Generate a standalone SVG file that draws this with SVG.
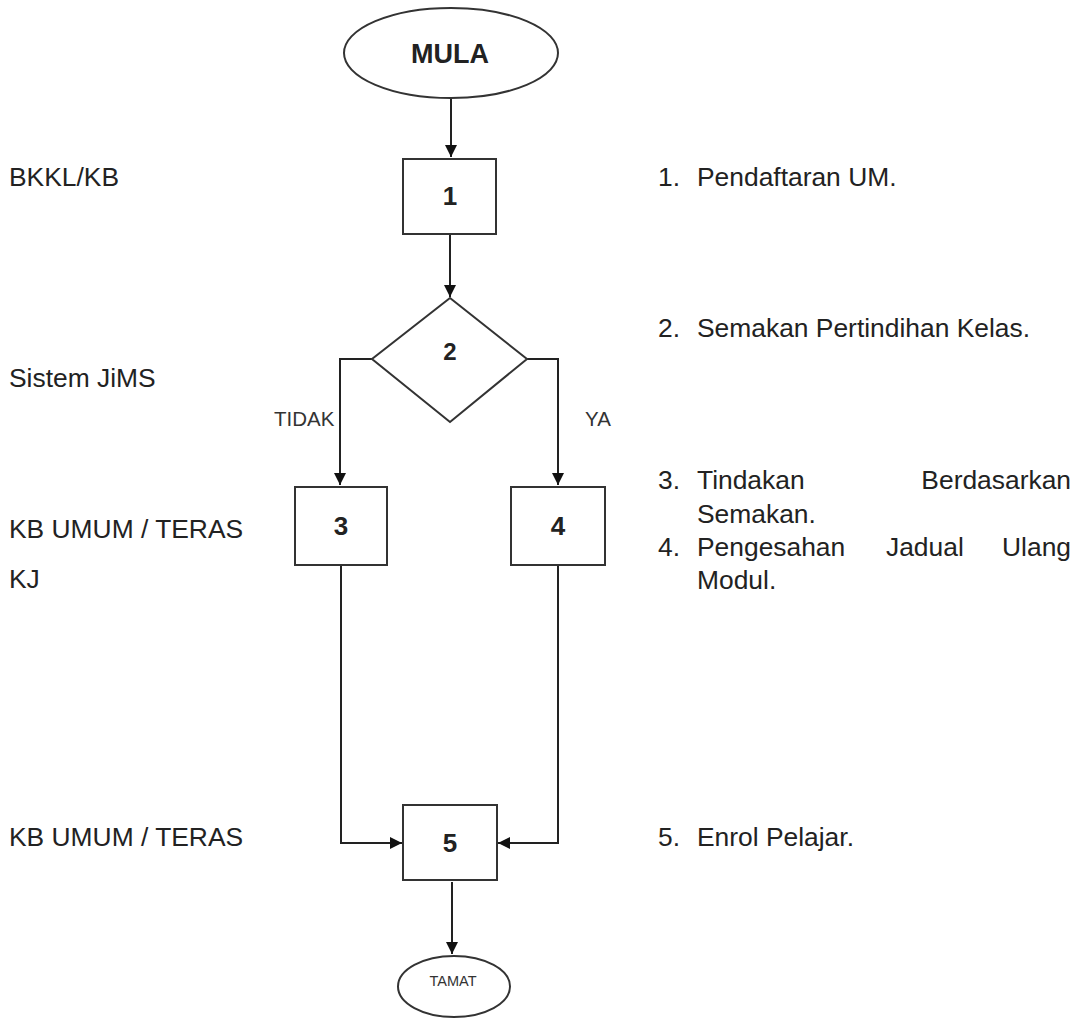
<svg xmlns="http://www.w3.org/2000/svg" width="1083" height="1019" viewBox="0 0 1083 1019">
<style>
.shape{fill:#fff;stroke:#333;stroke-width:2}
.conn{fill:none;stroke:#222;stroke-width:2}
.lbl{font-family:"Liberation Sans",Arial,sans-serif;font-size:26.4px;fill:#222}
.num{font-family:"Liberation Sans",Arial,sans-serif;font-size:26px;font-weight:bold;fill:#222;text-anchor:middle}
.br{font-family:"Liberation Sans",Arial,sans-serif;font-size:20.5px;fill:#333}
</style>
<defs>
<marker id="ah" viewBox="0 0 10 10" refX="10" refY="5" markerWidth="6" markerHeight="6" markerUnits="strokeWidth" orient="auto">
<path d="M0,0 L10,5 L0,10 z" fill="#111"/>
</marker>
</defs>
<rect width="1083" height="1019" fill="#fff"/>
<g id="connectors">
<line class="conn" x1="451" y1="98" x2="451" y2="157" marker-end="url(#ah)"/>
<line class="conn" x1="450" y1="235" x2="450" y2="297" marker-end="url(#ah)"/>
<polyline class="conn" points="372,359 340,359 340,485" marker-end="url(#ah)"/>
<polyline class="conn" points="527,359 558,359 558,485" marker-end="url(#ah)"/>
<polyline class="conn" points="341,566 341,843 402,843" marker-end="url(#ah)"/>
<polyline class="conn" points="558,566 558,843 498,843" marker-end="url(#ah)"/>
<line class="conn" x1="452" y1="882" x2="452" y2="954" marker-end="url(#ah)"/>
</g>
<g id="mula">
<ellipse class="shape" cx="451" cy="53" rx="107" ry="45"/>
<text class="num" x="450" y="63" style="font-size:27px">MULA</text>
</g>
<g id="n1">
<rect class="shape" x="403" y="159" width="93" height="75"/>
<text class="num" x="450" y="205">1</text>
</g>
<g id="n2">
<polygon class="shape" points="450,298 527,359 450,422 372,359"/>
<text class="num" x="450" y="360" style="font-size:24px">2</text>
</g>
<g id="n3">
<rect class="shape" x="295" y="487" width="92" height="78"/>
<text class="num" x="341" y="535">3</text>
</g>
<g id="n4">
<rect class="shape" x="511" y="487" width="94" height="78"/>
<text class="num" x="558" y="535">4</text>
</g>
<g id="n5">
<rect class="shape" x="403" y="805" width="94" height="75"/>
<text class="num" x="450" y="852">5</text>
</g>
<g id="tamat">
<ellipse class="shape" cx="454" cy="986.5" rx="56" ry="30.5"/>
<text x="453" y="986" text-anchor="middle" style="font-family:'Liberation Sans',Arial,sans-serif;font-size:14.5px;fill:#333">TAMAT</text>
</g>
<g id="branch-labels">
<text class="br" x="274" y="426">TIDAK</text>
<text class="br" x="585" y="426">YA</text>
</g>
<g id="left-labels">
<text class="lbl" x="9" y="186">BKKL/KB</text>
<text class="lbl" x="9" y="387">Sistem JiMS</text>
<text class="lbl" x="9" y="538">KB UMUM / TERAS</text>
<text class="lbl" x="9" y="588">KJ</text>
<text class="lbl" x="9" y="846">KB UMUM / TERAS</text>
</g>
<g id="right-labels">
<text class="lbl" x="658" y="186">1.</text>
<text class="lbl" x="697" y="186">Pendaftaran UM.</text>
<text class="lbl" x="658" y="337">2.</text>
<text class="lbl" x="697" y="337">Semakan Pertindihan Kelas.</text>
<text class="lbl" x="658" y="489">3.</text>
<text class="lbl" x="697" y="489">Tindakan</text>
<text class="lbl" x="1071" y="489" text-anchor="end">Berdasarkan</text>
<text class="lbl" x="697" y="523">Semakan.</text>
<text class="lbl" x="658" y="556">4.</text>
<text class="lbl" x="697" y="556">Pengesahan</text>
<text class="lbl" x="886" y="556">Jadual</text>
<text class="lbl" x="1071" y="556" text-anchor="end">Ulang</text>
<text class="lbl" x="697" y="589">Modul.</text>
<text class="lbl" x="658" y="846">5.</text>
<text class="lbl" x="697" y="846">Enrol Pelajar.</text>
</g>
</svg>
